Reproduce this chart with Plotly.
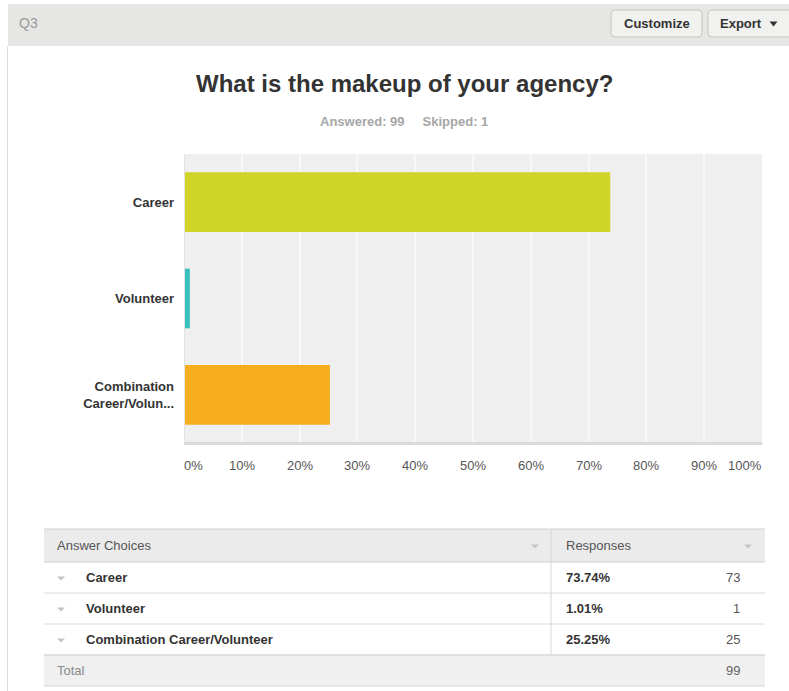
import plotly.graph_objects as go

# ---- survey data ----
question = "What is the makeup of your agency?"
question_id = "Q3"
answered = 99
skipped = 1
choices = ["Career", "Volunteer", "Combination Career/Volunteer"]
axis_labels = ["Career", "Volunteer", "Combination<br>Career/Volun..."]
percents = [73.74, 1.01, 25.25]
counts = [73, 1, 25]
bar_colors = ["#cfd427", "#37c0c0", "#f6ae1f"]
x_ticks = [0, 10, 20, 30, 40, 50, 60, 70, 80, 90, 100]

W, H = 789, 691
FONT = "Liberation Sans, Arial, sans-serif"


def px(x):
    return x / W


def py(y):
    return 1 - y / H


fig = go.Figure()
fig.add_trace(go.Bar(
    x=percents, y=axis_labels, orientation="h",
    marker=dict(color=bar_colors, line=dict(width=0)),
    width=0.62, hoverinfo="skip",
))

shapes = []
ann = []


def rect(x0, y0, x1, y1, fill, line=None, lw=0, layer="below"):
    shapes.append(dict(type="rect", xref="paper", yref="paper",
                       x0=px(x0), x1=px(x1), y0=py(y1), y1=py(y0),
                       fillcolor=fill, line=dict(color=line or fill, width=lw),
                       layer=layer))


def hline(x0, x1, y, color, w=1, layer="above"):
    shapes.append(dict(type="line", xref="paper", yref="paper",
                       x0=px(x0), x1=px(x1), y0=py(y), y1=py(y),
                       line=dict(color=color, width=w), layer=layer))


def vline(x, y0, y1, color, w=1, layer="above"):
    shapes.append(dict(type="line", xref="paper", yref="paper",
                       x0=px(x), x1=px(x), y0=py(y0), y1=py(y1),
                       line=dict(color=color, width=w), layer=layer))


def text(x, y, s, size=13, color="#333", bold=False, anchor="left"):
    # annotation boxes carry a couple of px of padding; compensate for it
    if anchor == "left":
        x -= 2
    elif anchor == "right":
        x += 2
    if bold:
        s = "<b>" + s + "</b>"
    ann.append(dict(x=px(x), y=py(y), xref="paper", yref="paper", text=s,
                    showarrow=False, xanchor=anchor, yanchor="middle",
                    font=dict(family=FONT, size=size, color=color)))


def caret(x, y, w, h, color):
    # small downward-pointing triangle
    x0, x1 = px(x - w / 2), px(x + w / 2)
    yt, yb = py(y - h / 2), py(y + h / 2)
    shapes.append(dict(type="path", xref="paper", yref="paper",
                       path=f"M{x0},{yt} L{x1},{yt} L{px(x)},{yb} Z",
                       fillcolor=color, line=dict(width=0), layer="above"))


def button(x0, y0, x1, y1, r=4):
    X0, X1, Y0, Y1 = px(x0), px(x1), py(y1), py(y0)
    rx, ry = r / W, r / H
    path = (f"M{X0+rx},{Y0} L{X1-rx},{Y0} Q{X1},{Y0} {X1},{Y0+ry} "
            f"L{X1},{Y1-ry} Q{X1},{Y1} {X1-rx},{Y1} L{X0+rx},{Y1} "
            f"Q{X0},{Y1} {X0},{Y1-ry} L{X0},{Y0+ry} Q{X0},{Y0} {X0+rx},{Y0} Z")
    shapes.append(dict(type="path", xref="paper", yref="paper", path=path,
                       fillcolor="#f1f1ef", line=dict(color="#c4c4c2", width=1),
                       layer="above"))


# header band with question id and buttons
rect(8, 4, W + 2, 46, "#e6e6e4")
vline(7.5, 46, H, "#dcdcdc", 1, layer="below")
text(19, 23, question_id, size=14, color="#9a9a9a")
button(611, 10, 702, 37)
text(656.5, 23.5, "Customize", size=13, color="#333", bold=True, anchor="center")
button(708, 10, W + 6, 37)
text(720, 23.5, "Export", size=13, color="#333", bold=True)
caret(773.5, 24, 8, 5, "#333")

# title and summary
text(405, 84, question, size=24, color="#333", bold=True, anchor="center")
text(404, 122, f"Answered: {answered}&nbsp;&nbsp;&nbsp;&nbsp;&nbsp;Skipped: {skipped}",
     size=13, color="#a6a6a6", bold=True, anchor="center")

# plot frame accents
hline(184, 762, 443.5, "#dadada", 3)
vline(184.5, 154, 443, "#e2e2e2", 1)

# x tick labels
for t in x_ticks:
    if t == 0:
        a, xx = "left", px(182)
    elif t == 100:
        a, xx = "right", px(764)
    else:
        a, xx = "center", None
    d = dict(y=py(465), yref="paper", text=f"{t}%", showarrow=False,
             xanchor=a, yanchor="middle",
             font=dict(family=FONT, size=13, color="#555"))
    if xx is None:
        d.update(x=t, xref="x")
    else:
        d.update(x=xx, xref="paper")
    ann.append(d)

# summary table
T_L, T_R, T_DIV = 44, 765, 551
row_top = 529
row_h = 31
hdr_h = 33
rect(T_L, row_top, T_R, row_top + hdr_h, "#ebebeb")
hline(T_L, T_R, row_top, "#d2d2d2", 1)
hline(T_L, T_R, row_top + hdr_h, "#d0d0d0", 1)
text(57, row_top + hdr_h / 2, "Answer Choices", size=13, color="#555")
caret(535, row_top + hdr_h / 2 + 1, 8, 4, "#c4c4c4")
text(566, row_top + hdr_h / 2, "Responses", size=13, color="#555")
caret(748, row_top + hdr_h / 2 + 1, 8, 4, "#c4c4c4")

y = row_top + hdr_h
for c, p, n in zip(choices, percents, counts):
    cy = y + row_h / 2
    caret(61, cy + 1, 8, 4, "#c4c4c4")
    text(86, cy, c, size=13, color="#333", bold=True)
    text(566, cy, f"{p:.2f}%", size=13, color="#333", bold=True)
    text(740, cy, str(n), size=13, color="#555", anchor="right")
    y += row_h
    hline(T_L, T_R, y, "#dadada", 1)
vline(T_DIV, row_top, y, "#d6d6d6", 1)

rect(T_L, y, T_R, y + row_h, "#f0f0f0")
hline(T_L, T_R, y, "#d6d6d6", 1)
hline(T_L, T_R, y + row_h, "#d6d6d6", 1)
text(57, y + row_h / 2, "Total", size=13, color="#8a8a8a")
text(740, y + row_h / 2, str(sum(counts)), size=13, color="#666", anchor="right")

fig.update_layout(
    width=W, height=H,
    margin=dict(l=0, r=0, t=0, b=0),
    paper_bgcolor="white",
    plot_bgcolor="#efefef",
    showlegend=False,
    bargap=0.38,
    shapes=shapes,
    annotations=ann,
    xaxis=dict(domain=[px(184), px(762)], range=[0, 100], tickvals=x_ticks,
               showticklabels=False, showgrid=True, gridcolor="#f8f8f8",
               gridwidth=2, zeroline=False, showline=False, fixedrange=True),
    yaxis=dict(domain=[py(443), py(154)], autorange="reversed",
               showgrid=False, zeroline=False, showline=False,
               ticks="", ticklabelstandoff=9,
               tickfont=dict(family=FONT, size=13, color="#333", weight="bold"),
               fixedrange=True),
)

fig.write_html("out.html")
